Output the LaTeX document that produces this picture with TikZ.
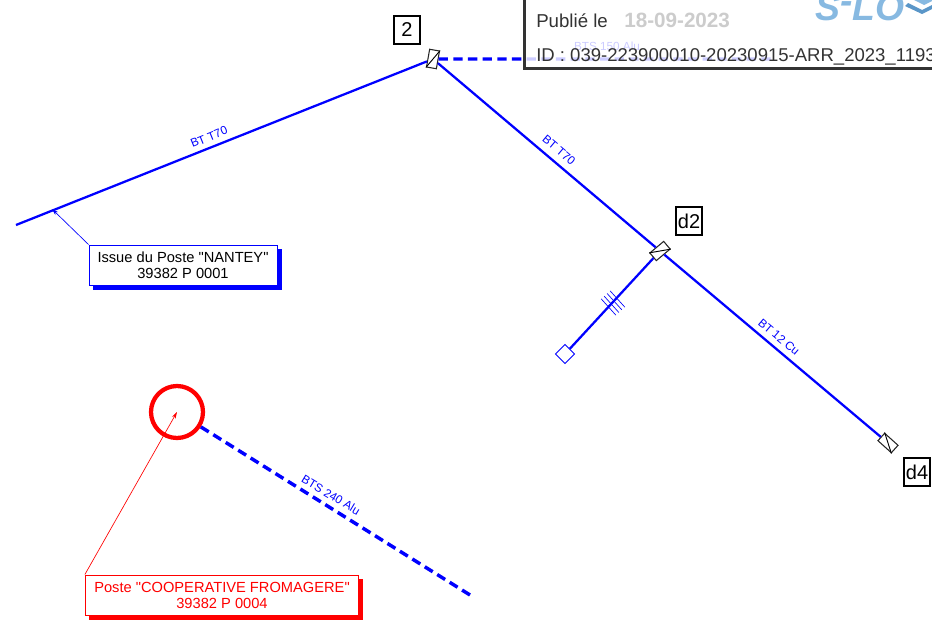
\documentclass[tikz,border=0pt]{standalone}
\usepackage{fontspec}
\setmainfont[Ligatures=TeXOff]{Liberation Sans}
\usetikzlibrary{arrows.meta}
\usetikzlibrary{shadows}
\tikzset{>={Stealth[length=5pt, width=3pt]}}
\definecolor{logoblue}{RGB}{135,185,225}
\definecolor{swooshblue}{RGB}{90,150,200}
\tikzset{
  cable/.style={blue, line width=1.7pt},
  cabledash/.style={blue, line width=2.6pt, dash pattern=on 7pt off 4pt},
  cablename/.style={blue, font=\fontsize{8.8}{9}\selectfont, inner sep=0pt},
  joint/.style={draw=black!85, fill=white, line width=.8pt, minimum width=13.5pt, minimum height=7.5pt, inner sep=0pt},
  tagbox/.style={draw=black, fill=white, line width=1.3pt, font=\fontsize{15}{16}\selectfont, inner sep=0pt, minimum width=20pt, minimum height=21pt},
  bluenote/.style={draw=blue, fill=white, line width=.7pt, align=center, inner sep=0pt, minimum width=141pt, minimum height=30pt, font=\fontsize{11}{12}\selectfont, copy shadow={shadow xshift=3pt, shadow yshift=-3pt, fill=blue, draw=blue}},
  rednote/.style={draw=red, fill=white, text=red, line width=.7pt, align=center, inner sep=0pt, minimum width=205pt, minimum height=30pt, font=\fontsize{11}{12}\selectfont, copy shadow={shadow xshift=3pt, shadow yshift=-3pt, fill=red, draw=red}},
}
\begin{document}
\begin{tikzpicture}[x=.75pt, y=-.75pt]
      \useasboundingbox (0, 0) rectangle (932, 621);
      \clip (0, 0) rectangle (932, 621);
      % joints
      \node[joint, rotate=80] (joint2) at (433, 59) {};
      \node[joint, rotate=40] (jointd2) at (660, 251) {};
      \node[joint, rotate=-42] (jointd4) at (888, 443) {};
      \node[draw=blue, fill=white, line width=.7pt, minimum size=10pt, inner sep=0pt, rotate=45] (stub) at (565, 354) {};
      \node[draw=red, line width=3.2pt, circle, minimum size=39pt, inner sep=0pt] (poste) at (177, 412) {};
      \coordinate (nanteyend) at (16, 225);
      \coordinate (nanteypoint) at (52, 209);
      \coordinate (dashend) at (470, 595);
      \coordinate (dashtop) at (775, 59);
      % lines
      \draw[cable] (nanteyend) -- (joint2);
      \draw[cable] (joint2) -- (jointd2);
      \draw[cable] (jointd2) -- (jointd4);
      \draw[cable] (jointd2) -- (stub);
      \draw[cabledash] (poste) -- (dashend);
      \draw[cabledash] (joint2) -- (dashtop);
      % hatch on the branch
      \foreach \i in {-6, -2, 2, 6}
        \draw[blue, line width=.5pt, shift={(613, 303)}, rotate=42] (\i, -11) -- (\i, 11);
      % slanted lines in the joints
      \draw[black, line width=.7pt] (joint2.north west) -- (joint2.south east);
      \draw[black, line width=.7pt] (jointd2.north west) -- (jointd2.south east);
      \draw[black, line width=.7pt] (jointd4.north west) -- (jointd4.south east);
      % names of the cables
      \node[cablename, rotate=22] (namea) at (209, 137) {BT T70};
      \node[cablename, rotate=-40] (nameb) at (559, 150) {BT T70};
      \node[cablename, rotate=-40] (namec) at (779, 337) {BT 12 Cu};
      \node[cablename, rotate=-31] (named) at (331, 495) {BTS 240 Alu};
      \node[cablename] (namee) at (607, 46) {BTS 150 Alu};
      % tags
      \node[tagbox] (tag2) at (407, 30) {2};
      \node[tagbox] (tagd2) at (689, 221) {d2};
      \node[tagbox] (tagd4) at (917, 472) {d4};
      % notes
      \node[bluenote] (noteblue) at (183, 265) {Issue du Poste "NANTEY"\\39382 P 0001};
      \node[rednote] (notered) at (222, 595) {Poste "COOPERATIVE FROMAGERE"\\39382 P 0004};
      \draw[->, blue, line width=.5pt] (noteblue.north west) -- (nanteypoint);
      \draw[->, red, line width=.5pt] (notered.north west) -- (poste.center);
      % stamp
      \node[draw=black!80, fill=white, fill opacity=.8, line width=2.2pt, minimum width=330pt, minimum height=60pt, inner sep=0pt, anchor=south west] (stamp) at (523, 70) {};
      \node[anchor=base west, inner sep=0pt, text=logoblue, font=\fontsize{28}{28}\bfseries\itshape\selectfont] (logo) at (815, 20) {S\raisebox{5pt}{-}LO};
      \fill[logoblue] (914, 0) -- (924, 5) -- (932, 1) -- (932, 0) -- cycle;
      \fill[swooshblue] (908, 3) -- (922, 10) -- (932, 5) -- (932, 9) -- (922, 14) -- (905, 6) -- cycle;
      \node[anchor=base west, inner sep=0pt, text=black!80, font=\fontsize{14}{14}\selectfont] (published) at (536, 27) {Publié le};
      \node[anchor=base west, inner sep=0pt, text=black!20, font=\fontsize{15.5}{16}\bfseries\selectfont] (publisheddate) at (624, 27) {18-09-2023};
      \node[anchor=base west, inner sep=0pt, text=black!80, font=\fontsize{13.9}{14}\selectfont] (stampid) at (536, 61) {ID : 039-223900010-20230915-ARR\_2023\_1193};
    \end{tikzpicture}
\end{document}
